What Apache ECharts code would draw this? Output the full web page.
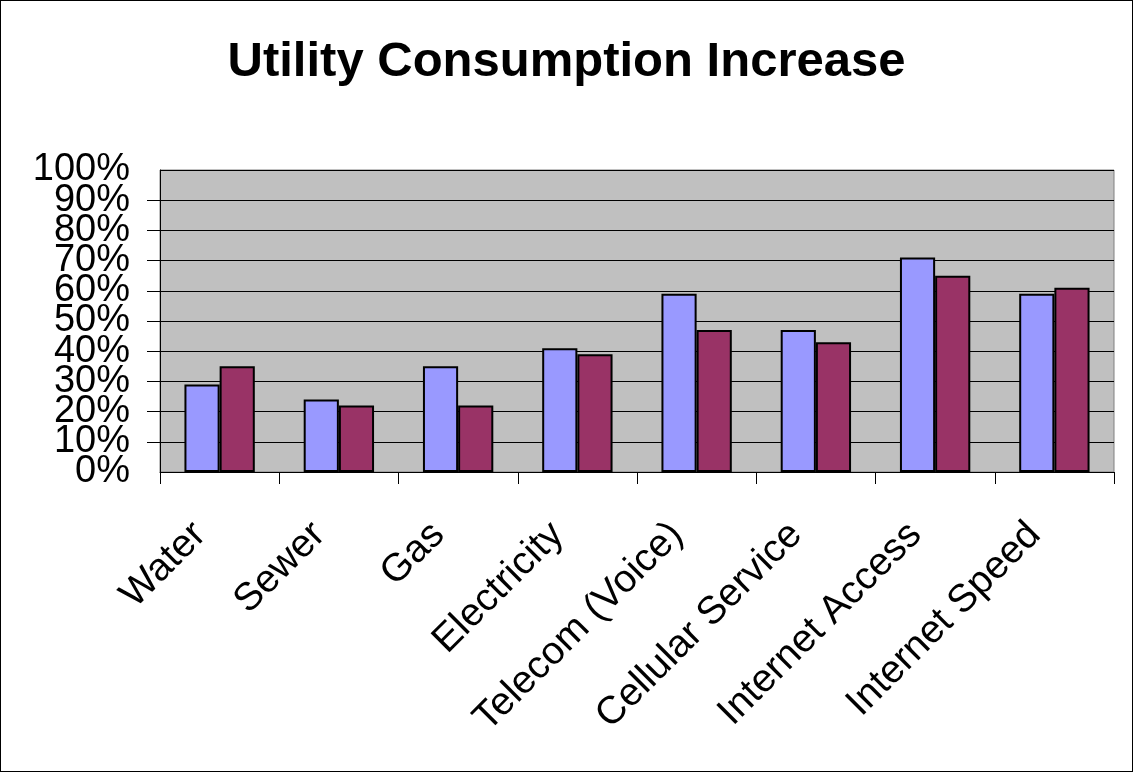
<!DOCTYPE html>
<html>
<head>
<meta charset="utf-8">
<script src="https://cdn.jsdelivr.net/npm/echarts@6/dist/echarts.min.js"></script>
<style>
  html, body { margin: 0; padding: 0; background: #fff; }
  #chart { width: 1133px; height: 772px; box-sizing: border-box; border: 1px solid #000; }
</style>
</head>
<body>
<div id="chart"></div>
<script>
const categories = ['Water', 'Sewer', 'Gas', 'Electricity', 'Telecom (Voice)', 'Cellular Service', 'Internet Access', 'Internet Speed'];
const seriesA = [29, 24, 35, 41, 59, 47, 71, 59];
const seriesB = [35, 22, 22, 39, 47, 43, 65, 61];
const yTicks = { min: 0, max: 100, interval: 10 };
const titleText = 'Utility Consumption Increase';

const FONT = "'Liberation Sans', Arial, Helvetica, sans-serif";
const yLabelStyle = { formatter: '{value}%', margin: 30, fontFamily: FONT, fontSize: 38, color: '#000' };
const chart = echarts.init(document.getElementById('chart'), null, { renderer: 'canvas' });
chart.setOption({
  backgroundColor: '#ffffff',
  animation: false,
  title: {
    text: titleText,
    left: 'center',
    top: 32,
    textStyle: { fontFamily: FONT, fontSize: 49, fontWeight: 'bold', color: '#000' }
  },
  grid: {
    left: 159, right: 18, top: 169, bottom: 299,
    show: true, backgroundColor: '#C0C0C0', borderColor: '#808080', borderWidth: 1,
    containLabel: false
  },
  xAxis: {
    type: 'category',
    data: categories,
    axisLine: { lineStyle: { color: '#000', width: 1 } },
    axisTick: { show: true, length: 12, lineStyle: { color: '#000' } },
    axisLabel: {
      rotate: 45, interval: 0, margin: 37, padding: [0, 28, 0, 0],
      hideOverlap: false,
      fontFamily: FONT, fontSize: 39, color: '#000'
    },
    splitLine: { show: false }
  },
  yAxis: [
    {
      type: 'value', position: 'left', offset: 0,
      min: yTicks.min, max: yTicks.max, interval: yTicks.interval,
      axisLine: { show: true, lineStyle: { color: '#000', width: 1 } },
      axisTick: { show: true, length: 13, lineStyle: { color: '#000' } },
      axisLabel: Object.assign({}, yLabelStyle, { showMinLabel: false, showMaxLabel: false }),
      splitLine: { show: true, lineStyle: { color: '#000', width: 1 } }
    },
    {
      type: 'value', position: 'left', offset: 0,
      min: yTicks.min, max: yTicks.max, interval: yTicks.max - yTicks.min,
      axisLine: { show: false }, axisTick: { show: false }, splitLine: { show: false },
      axisLabel: Object.assign({}, yLabelStyle, { showMinLabel: true, showMaxLabel: true })
    }
  ],
  series: [
    {
      type: 'bar', data: seriesA, barGap: '0%', barCategoryGap: '41%',
      itemStyle: { color: '#9999FF', borderColor: '#000', borderWidth: 2 }
    },
    {
      type: 'bar', data: seriesB, barGap: '0%', barCategoryGap: '41%',
      itemStyle: { color: '#993366', borderColor: '#000', borderWidth: 2 }
    }
  ]
});
</script>
</body>
</html>
